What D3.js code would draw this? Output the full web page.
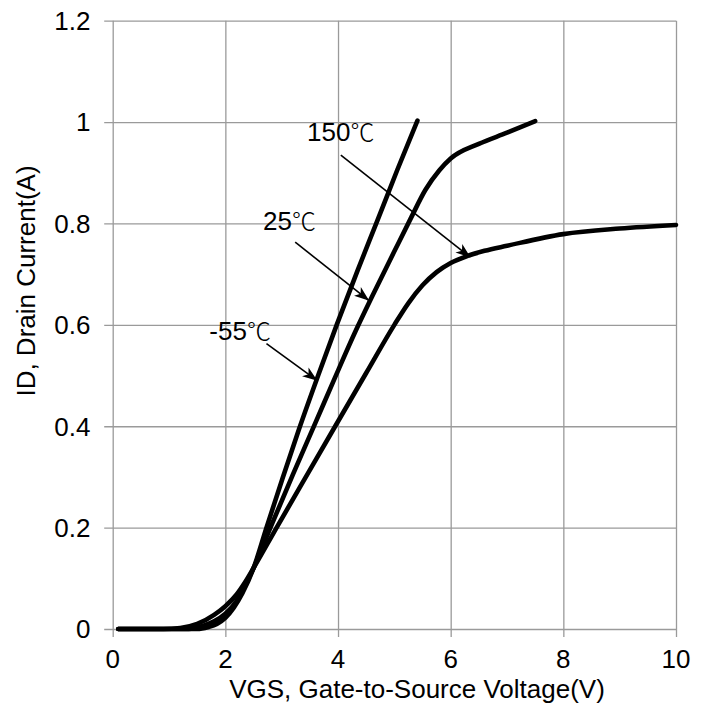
<!DOCTYPE html>
<html>
<head>
<meta charset="utf-8">
<script src="https://cdn.jsdelivr.net/npm/d3@7/dist/d3.min.js"></script>
<style>
  html, body { margin: 0; padding: 0; background: #fff; }
  svg { display: block; }
  text { font-family: Arial, "Liberation Sans", sans-serif; fill: #000; }
</style>
</head>
<body>
<svg id="chart" width="708" height="711"></svg>
<script>
// ---- data ----
const xTicks = [0, 2, 4, 6, 8, 10];
const yTicks = [0, 0.2, 0.4, 0.6, 0.8, 1, 1.2];

const vgsM55 = [0.1, 1.0, 1.5, 1.7, 1.85, 2.0, 2.15, 2.3, 2.5, 2.73, 3.0, 3.31, 3.65, 3.98, 4.35, 4.7, 5.05, 5.41];
const idM55  = [0, 0, 0, 0.004, 0.01, 0.022, 0.042, 0.07, 0.12, 0.2, 0.292, 0.395, 0.501, 0.601, 0.708, 0.806, 0.905, 1.003];

const vgs25 = [0.1, 1.0, 1.35, 1.6, 1.8, 2.0, 2.2, 2.35, 2.5, 2.8, 3.2, 3.6, 3.95, 4.3, 4.6, 5.0, 5.3, 5.55, 5.8, 6.0, 6.5, 7.0, 7.5];
const id25  = [0, 0, 0, 0.006, 0.015, 0.03, 0.055, 0.085, 0.12, 0.2, 0.305, 0.407, 0.497, 0.585, 0.655, 0.745, 0.812, 0.866, 0.905, 0.928, 0.957, 0.979, 1.002];

const vgs150 = [0.1, 0.9, 1.2, 1.5, 1.8, 2.0, 2.2, 2.35, 2.5, 2.91, 3.45, 3.95, 4.5, 5.0, 5.25, 5.5, 5.75, 6.0, 6.3, 6.6, 7.0, 8.0, 9.0, 10.0];
const id150  = [0, 0, 0.002, 0.01, 0.028, 0.045, 0.068, 0.092, 0.12, 0.2, 0.304, 0.4, 0.505, 0.6, 0.643, 0.678, 0.704, 0.722, 0.736, 0.746, 0.756, 0.779, 0.79, 0.797];

// annotation labels (data coordinates: label anchor, arrow tail, arrow tip)
const labelNames = ["-55", "25", "150"];
const labelX = [1.715, 2.67, 3.45];
const labelY = [0.571, 0.787, 0.963];
const tailX  = [2.73, 3.24, 4.05];
const tailY  = [0.563, 0.763, 0.935];
const tipX   = [3.62, 4.54, 6.34];
const tipY   = [0.491, 0.649, 0.734];

const xTitle = "VGS, Gate-to-Source Voltage(V)";
const yTitle = "ID, Drain Current(A)";

// ---- layout ----
const svg = d3.select("#chart");
const mLeft = 112.7, mRight = 676, mTop = 20.7, mBottom = 629;

const x = d3.scaleLinear().domain([0, 10]).range([mLeft, mRight]);
const y = d3.scaleLinear().domain([0, 1.2]).range([mBottom, mTop]);

const gridColor = "#9a9a9a";

// grid + axes
const gx = svg.append("g").attr("transform", `translate(0,${mBottom})`)
  .call(d3.axisBottom(x).tickValues(xTicks).tickSize(-(mBottom - mTop)).tickFormat(""));
gx.select(".domain").remove();
gx.selectAll(".tick line").attr("stroke", gridColor).attr("stroke-width", 1.3)
  .attr("y2", -(mBottom - mTop)).attr("y1", 8);

const gy = svg.append("g").attr("transform", `translate(${mLeft},0)`)
  .call(d3.axisLeft(y).tickValues(yTicks).tickSize(-(mRight - mLeft)).tickFormat(""));
gy.select(".domain").remove();
gy.selectAll(".tick line").attr("stroke", gridColor).attr("stroke-width", 1.3)
  .attr("x2", mRight - mLeft).attr("x1", -8.5);

// tick labels
svg.append("g").selectAll("text").data(xTicks).join("text")
  .attr("x", d => x(d)).attr("y", 668)
  .attr("text-anchor", "middle").attr("font-size", 26)
  .text(d => d3.format("")(d));

svg.append("g").selectAll("text").data(yTicks).join("text")
  .attr("x", 90.5).attr("y", d => y(d) + 9.3)
  .attr("text-anchor", "end").attr("font-size", 26)
  .text(d => d3.format("")(d));

// axis titles
svg.append("text").attr("x", 417).attr("y", 698)
  .attr("text-anchor", "middle").attr("font-size", 26).text(xTitle);
svg.append("text").attr("transform", "translate(35,281) rotate(-90)")
  .attr("text-anchor", "middle").attr("font-size", 26).text(yTitle);

// curves
const line = d3.line().x(d => x(d[0])).y(d => y(d[1])).curve(d3.curveMonotoneX);
const series = [
  d3.zip(vgsM55, idM55),
  d3.zip(vgs25, id25),
  d3.zip(vgs150, id150)
];
svg.append("g").selectAll("path").data(series).join("path")
  .attr("d", line)
  .attr("fill", "none").attr("stroke", "#000").attr("stroke-width", 4.6)
  .attr("stroke-linecap", "round").attr("stroke-linejoin", "round");

// arrow marker
svg.append("defs").append("marker")
  .attr("id", "arrow").attr("markerUnits", "userSpaceOnUse")
  .attr("viewBox", "-16 -8 18 16").attr("refX", 0).attr("refY", 0)
  .attr("markerWidth", 18).attr("markerHeight", 16).attr("orient", "auto")
  .append("path").attr("d", "M1,0 L-14,-5.5 L-10,0 L-14,5.5 Z").attr("fill", "#000");

const idx = d3.range(labelNames.length);
svg.append("g").selectAll("line").data(idx).join("line")
  .attr("x1", i => x(tailX[i])).attr("y1", i => y(tailY[i]))
  .attr("x2", i => x(tipX[i])).attr("y2", i => y(tipY[i]))
  .attr("stroke", "#000").attr("stroke-width", 1.6)
  .attr("marker-end", "url(#arrow)");

const lbl = svg.append("g").selectAll("text").data(idx).join("text")
  .attr("x", i => x(labelX[i])).attr("y", i => y(labelY[i]))
  .attr("font-size", 26);
lbl.append("tspan").text(i => labelNames[i]);
lbl.append("tspan").attr("font-family", "'Noto Sans CJK SC', sans-serif")
  .attr("font-weight", 300).attr("font-size", 24).text("℃");
</script>
</body>
</html>
